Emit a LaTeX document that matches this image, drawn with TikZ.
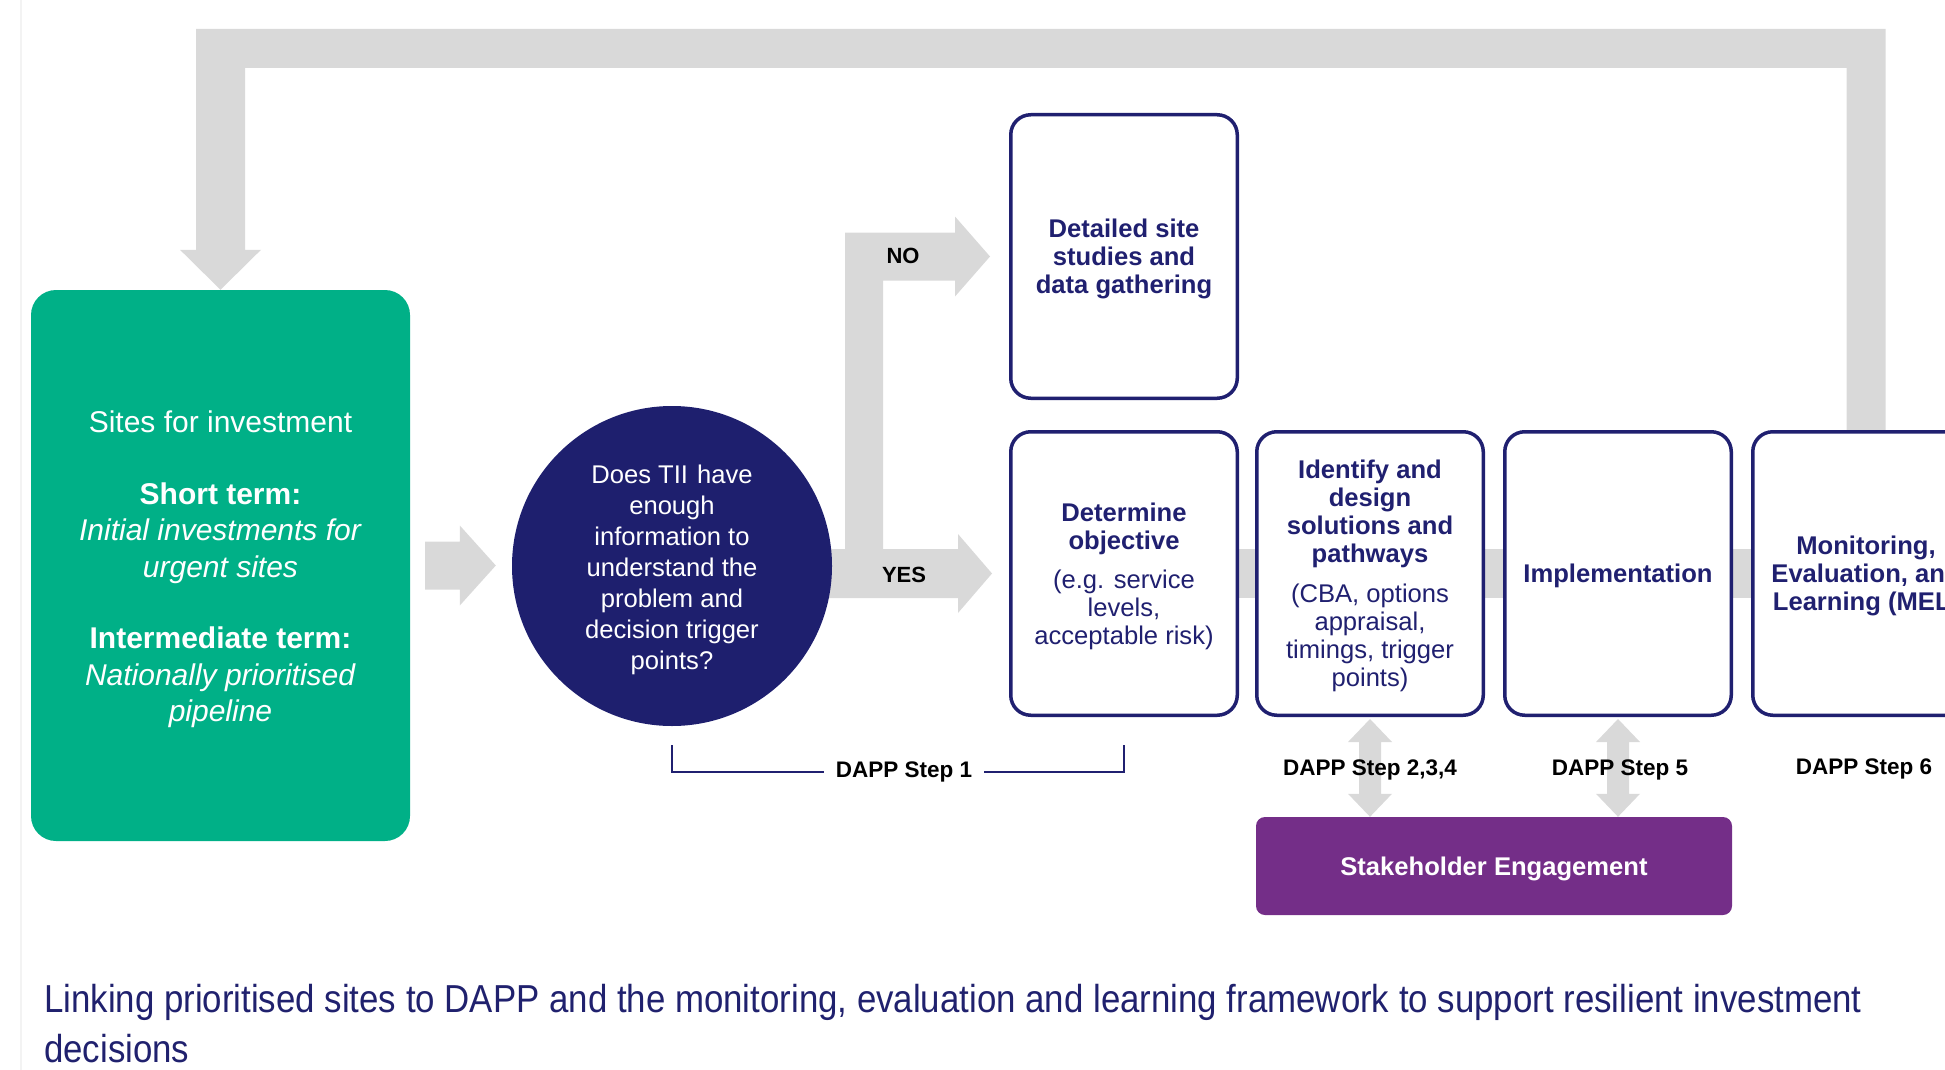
\documentclass[tikz,border=0pt]{standalone}
\usepackage{fontspec}
\setmainfont{Liberation Sans}
\usetikzlibrary{calc,backgrounds}
\definecolor{conngray}{RGB}{217,217,217}
\definecolor{tgreen}{RGB}{0,176,135}
\definecolor{navy}{RGB}{32,32,112}
\definecolor{qnavy}{RGB}{30,31,110}
\definecolor{purp}{RGB}{116,46,136}
\definecolor{capnavy}{RGB}{32,33,110}
\definecolor{edgegray}{RGB}{243,243,243}
\newcommand\blockR[5]{\fill[conn] ($(#1)+(0,-#3)$) -- ($(#2)+(-#5,-#3)$) -- ($(#2)+(-#5,-#4)$) -- (#2) -- ($(#2)+(-#5,#4)$) -- ($(#2)+(-#5,#3)$) -- ($(#1)+(0,#3)$) -- cycle;}
\newcommand\blockV[2]{\fill[conn] let \p1=(#1), \p2=(#2) in (\x1,\y1) -- (\x1+22pt,\y1-23pt) -- (\x1+11pt,\y1-23pt) -- (\x2+11pt,\y2+23pt) -- (\x2+22pt,\y2+23pt) -- (\x2,\y2) -- (\x2-22pt,\y2+23pt) -- (\x2-11pt,\y2+23pt) -- (\x1-11pt,\y1-23pt) -- (\x1-22pt,\y1-23pt) -- cycle;}
\newcommand\tallstrut[1]{\rule{0pt}{#1}}
\begin{document}
\begin{tikzpicture}[x=1pt,y=-1pt,
  conn/.style={fill=conngray},
  greenbox/.style={fill=tgreen, rounded corners=25pt, minimum width=379pt, minimum height=551pt, text=white, align=center, font=\fontsize{30}{36.5}\selectfont, inner sep=0pt},
  question/.style={circle, fill=qnavy, minimum size=320pt, inner sep=0pt, text=white, align=center, font=\fontsize{25.6}{31}\selectfont},
  stepbox/.style={draw=navy, line width=3.5pt, fill=white, rounded corners=20pt, minimum width=226.5pt, minimum height=283.5pt, align=center, text=navy, font=\fontsize{25.6}{28}\selectfont\bfseries, inner sep=4pt},
  stakebox/.style={fill=purp, rounded corners=9pt, minimum width=476pt, minimum height=98pt, text=white, font=\fontsize{25.6}{28}\selectfont\bfseries},
  dapp/.style={text=black, font=\fontsize{22.5}{25}\selectfont\bfseries, inner ysep=0pt, inner xsep=12pt},
  yn/.style={text=black, font=\fontsize{22}{25}\selectfont\bfseries, inner sep=0pt},
  capt/.style={text=capnavy, font=\fontsize{39}{50}\selectfont, align=left, inner sep=0pt},
  bracketline/.style={draw=navy, line width=2pt}
]
\useasboundingbox (0,0) rectangle (1945,1070);
\clip (0,0) rectangle (1945,1070);
\draw[edgegray, line width=1.5pt] (21,0) -- (21,1070);

% nodes
\node[greenbox] (green) at (220.5,565.5) {\tallstrut{30pt}Sites for investment\\[35pt]
\textbf{Short term:}\\
\textit{Initial investments for}\\
\textit{urgent sites}\\[35pt]
\textbf{Intermediate term:}\\
\textit{Nationally prioritised}\\
\textit{pipeline}};

\node[question] (q) at (672,566) {\tallstrut{27pt}Does TII\hspace{9pt}have\\enough\\information to\\understand the\\problem and\\decision trigger\\points?};

\node[stepbox] (det1) at (1124,256.5) {\tallstrut{24pt}Detailed site\\studies and\\data gathering};
\node[stepbox] (det) at (1124,573.5) {\tallstrut{24pt}Determine\\objective\\[11pt]\textmd{(e.g. service}\\\textmd{levels,}\\\textmd{acceptable risk)}};
\node[stepbox] (ident) at (1370,573.5) {\tallstrut{24pt}Identify and\\design\\solutions and\\pathways\\[12pt]\textmd{(CBA, options}\\\textmd{appraisal,}\\\textmd{timings, trigger}\\\textmd{points)}};
\node[stepbox] (impl) at (1618,573.5) {\tallstrut{24pt}Implementation};
\node[stepbox] (mel) at (1866,573.5) {\tallstrut{24pt}Monitoring,\\Evaluation, and\\Learning (MEL)};

\node[stakebox] (stake) at (1494,866) {\tallstrut{24pt}Stakeholder Engagement};

\node[dapp] (s1) at (904,772) {DAPP Step 1};
\node[dapp, anchor=base] (s234) at (1370,775) {DAPP Step 2,3,4};
\node[dapp, anchor=base] (s5) at (1620,775) {DAPP Step 5};
\node[dapp, anchor=base] (s6) at (1864,774) {DAPP Step 6};

\node[yn, anchor=base] (no) at (903,263) {NO};
\node[yn, anchor=base] (yes) at (904,582) {YES};

\node[capt, anchor=south west] (cap) at (44,1063.5) {\scalebox{0.893}[1]{Linking prioritised sites to DAPP and the monitoring, evaluation and learning framework to support resilient investment}\\\scalebox{0.893}[1]{decisions}};

% bracket for DAPP step 1
\coordinate (bry) at (0,745);
\draw[bracketline] (s1.west) -| (q.center |- bry);
\draw[bracketline] (s1.east) -| (det.center |- bry);

% connectors behind
\begin{scope}[on background layer]
  % feedback loop from MEL back to sites
  \fill[conn] let \p1=(mel.north), \p2=(green.north) in
    (\x1-19.5pt,\y1-6pt) -- (\x1-19.5pt,-68pt) -- (\x2+24.5pt,-68pt) -- (\x2+24.5pt,\y2+40pt)
    -- (\x2+40.5pt,\y2+40pt) -- (\x2,\y2) -- (\x2-40.5pt,\y2+40pt) -- (\x2-24.5pt,\y2+40pt)
    -- (\x2-24.5pt,-29pt) -- (\x1+19.5pt,-29pt) -- (\x1+19.5pt,\y1-6pt) -- cycle;
  % row bar linking DAPP steps
  \fill[conn] ($(det.center)+(0,-24.5)$) rectangle ($(mel.center)+(0,24.5)$);
  % sites -> question
  \coordinate (g1) at ([xshift=15pt]green.east);
  \coordinate (g2) at ([xshift=-16pt]q.west |- g1);
  \blockR{g1}{g2}{24}{40}{36}
  % YES
  \coordinate (y1) at (q.center |- det.center);
  \coordinate (y2) at ([xshift=-17pt]det.west);
  \blockR{y1}{y2}{24.5}{39.5}{34}
  % NO
  \coordinate (n2) at ([xshift=-19pt]det1.west);
  \fill[conn] let \p1=(n2), \p2=(y1) in
    (845pt,\y2-20pt) -- (845pt,\y1+24pt) -- (\x1-35pt,\y1+24pt) -- (\x1-35pt,\y1+40pt) -- (\x1,\y1)
    -- (\x1-35pt,\y1-40pt) -- (\x1-35pt,\y1-24pt) -- (883pt,\y1-24pt) -- (883pt,\y2-20pt) -- cycle;
  % stakeholder engagement double arrows
  \coordinate (d1t) at ([yshift=-2pt]ident.south);
  \coordinate (d1b) at (ident.south |- stake.north);
  \blockV{d1t}{d1b}
  \coordinate (d2t) at ([yshift=-2pt]impl.south);
  \coordinate (d2b) at (impl.south |- stake.north);
  \blockV{d2t}{d2b}
\end{scope}
\end{tikzpicture}
\end{document}
